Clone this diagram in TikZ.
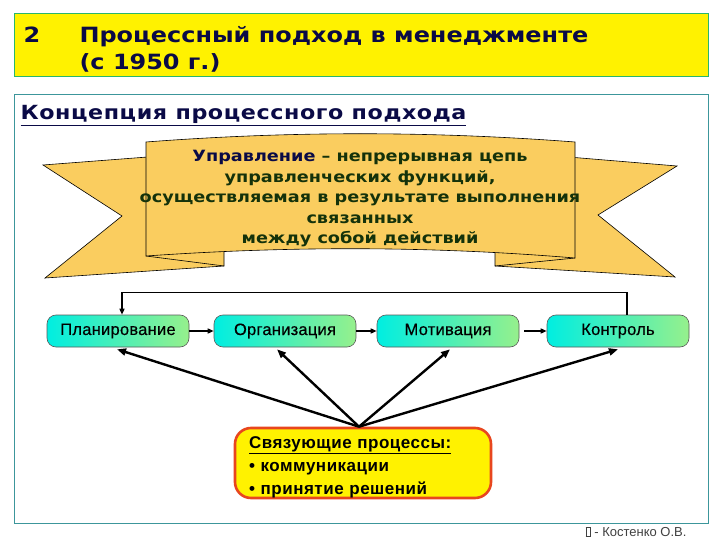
\documentclass[tikz,border=0pt]{standalone}
\usepackage{fontspec}
\setmainfont{DejaVu Sans}
\newfontfamily\arialfont{Liberation Sans}
\newfontfamily\widebold[FakeStretch=1.14]{DejaVu Sans Bold}
\newfontfamily\headbold[FakeStretch=1.14,LetterSpace=3]{DejaVu Sans Bold}
\newfontfamily\widearial[LetterSpace=1.5,FakeBold=0.4]{Liberation Sans}
\newfontfamily\widearialbold[LetterSpace=3]{Liberation Sans Bold}
\usepackage{tikz}
\usetikzlibrary{calc,arrows.meta,positioning}

\definecolor{titlenavy}{RGB}{10,10,70}
\definecolor{frameteal}{RGB}{60,150,155}
\definecolor{bannergold}{RGB}{250,205,95}
\definecolor{bannertext}{RGB}{20,50,10}
\definecolor{proccyan}{RGB}{0,238,225}
\definecolor{procgreen}{RGB}{150,240,140}
\definecolor{linkred}{RGB}{232,70,30}

\tikzset{
  banner/.style={draw=black, line width=0.6pt, top color=bannergold, middle color=yellow, bottom color=bannergold},
  procbox/.style={draw=gray!70!black, line width=0.6pt, rounded corners=9pt, left color=proccyan, right color=procgreen,
    minimum width=142pt, minimum height=32pt, font=\widearial\fontsize{16.5}{18}\selectfont},
  flow/.style={-{Triangle[length=6pt,width=5pt]}, line width=1.4pt},
  link/.style={-{Triangle[length=9pt,width=7pt]}, line width=2.4pt}
}

\begin{document}
\begin{tikzpicture}[x=1pt,y=-1pt]
\useasboundingbox[fill=white] (0,0) rectangle (720,540);

% title
\draw[frameteal!70!green, line width=1pt, fill=yellow] (14,14) rectangle (708,77);
\node[anchor=base west, text=titlenavy, font=\widebold\fontsize{21}{24}\selectfont] (num) at (20,43) {2};
\node[anchor=base west, text=titlenavy, font=\widebold\fontsize{21}{24}\selectfont] (title) at (76,43) {Процессный подход в менеджменте};
\node[anchor=base west, text=titlenavy, font=\widebold\fontsize{21}{24}\selectfont] (years) at (76,70) {(с 1950 г.)};

% main frame
\draw[frameteal, line width=1pt] (14,95) rectangle (708,523);
\node[anchor=base west, text=titlenavy, font=\headbold\fontsize{19.5}{22}\selectfont] (concept) at (17,120) {\underline{Концепция процессного подхода}};

% banner wings
\draw[banner] (43,165) -- (200,153) -- (224,252) -- (224,266) -- (45,278) -- (122,216) -- cycle;
\draw[banner] (677,166) -- (520,153) -- (495,252) -- (495,266) -- (675,277) -- (598,215) -- cycle;
\draw[line width=0.6pt] (146,256) -- (224,266);
\draw[line width=0.6pt] (575,258) -- (495,266);
% banner panel
\draw[banner] (146,142) .. controls (290,131) and (430,131) .. (575,142)
  -- (575,258) .. controls (430,246) and (290,246) .. (146,256) -- cycle;
\node[align=center, text=bannertext, font=\widebold\fontsize{15.5}{20.5}\selectfont] (motto) at (360,199)
  {\textcolor{titlenavy}{Управление} – непрерывная цепь\\
   управленческих функций,\\
   осуществляемая в результате выполнения\\
   связанных\\
   между собой действий};

% functions
\node[procbox] (plan) at (118,331) {Планирование};
\node[procbox] (org) at (285,331) {Организация};
\node[procbox] (motiv) at (448,331) {Мотивация};
\node[procbox] (ctrl) at (618,331) {Контроль};

\draw[flow] (plan) -- (org);
\draw[flow] (org) -- (motiv);
\draw[flow] ([xshift=5pt]motiv.east) -- (ctrl);
\draw[flow] ([xshift=9pt]ctrl.north) -- ++(0,-22) -| ([xshift=4pt]plan.north);

% linking processes
\node[draw=linkred, line width=2.6pt, fill=yellow, rounded corners=16pt, minimum width=256pt, minimum height=70pt] (links) at (363,463) {};
\node[text width=236pt, align=left, font=\widearialbold\fontsize{17}{23}\selectfont] (linktext) at ([xshift=4pt,yshift=-4pt]links.center)
  {\underline{Связующие процессы:}\\
   \textbullet\ коммуникации\\
   \textbullet\ принятие решений};

\draw[link] ([xshift=-4pt]links.north) -- ([xshift=-1pt,yshift=-2pt]plan.south);
\draw[link] ([xshift=-4pt]links.north) -- ([xshift=-8pt,yshift=-2pt]org.south);
\draw[link] ([xshift=-4pt]links.north) -- ([xshift=2pt,yshift=-2pt]motiv.south);
\draw[link] ([xshift=-4pt]links.north) -- ([yshift=-2pt]ctrl.south);

% footer
\node[anchor=base east, text=black!75, font=\arialfont\fontsize{13}{15}\selectfont] (author) at (690,536)
  {{\setlength\fboxsep{0pt}\setlength\fboxrule{0.6pt}\fbox{\rule{0pt}{8pt}\hspace{4pt}}} - Костенко О.В.};
\end{tikzpicture}
\end{document}
